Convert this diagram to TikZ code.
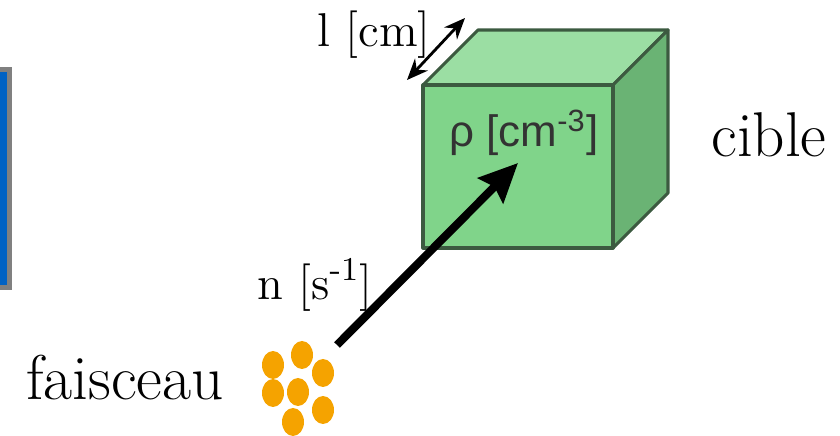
\documentclass[tikz,border=0pt]{standalone}
\usepackage{fontspec}
\newfontfamily\labelsans{Liberation Sans}
\usepackage{tikz}
\usetikzlibrary{arrows.meta,calc,positioning}
\definecolor{cubefront}{HTML}{80D48A}
\definecolor{cubetop}{HTML}{9BDEA3}
\definecolor{cubeside}{HTML}{6AB374}
\definecolor{cubeedge}{HTML}{3C5A40}
\definecolor{beamdot}{HTML}{F5A300}
\definecolor{panelblue}{HTML}{0062C4}

\begin{document}
\begin{tikzpicture}[
    bigtext/.style={font=\fontsize{18}{20}\selectfont},
    smalltext/.style={font=\fontsize{13.5}{15}\selectfont},
    face/.style={draw=cubeedge,line width=0.9pt,line join=round}]
  \useasboundingbox (0,0) rectangle (8.4,4.36);
  % panel cut by the left edge
  \fill[panelblue,draw=gray,line width=0.05cm] (-0.2,3.665) rectangle (0.095,1.485);
  % target cube
  \begin{scope}
    \coordinate (F0) at (4.23,1.88);
    \coordinate (F1) at (6.13,1.88);
    \coordinate (F2) at (6.13,3.51);
    \coordinate (F3) at (4.23,3.51);
    \foreach \k in {0,...,3} \coordinate (B\k) at ($(F\k)+(0.55,0.55)$);
    \draw[face,fill=cubetop] (F3)--(F2)--(B2)--(B3)--cycle;
    \draw[face,fill=cubeside] (F1)--(B1)--(B2)--(F2)--cycle;
    \draw[face,fill=cubefront] (F0)--(F1)--(F2)--(F3)--cycle;
    \node[font=\labelsans\fontsize{12.5}{14}\selectfont,text=black!80] (rho) at (5.24,3.03) {ρ [cm\textsuperscript{-3}]};
    \coordinate (hit) at (5.18,2.73);
  \end{scope}
  \node[bigtext] (cible) at (7.69,3.01) {cible};
  % thickness
  \coordinate (L0) at (4.07,3.56);
  \coordinate (L1) at (4.65,4.18);
  \draw[{Stealth[length=6pt,width=5pt]}-{Stealth[length=6pt,width=5pt]},line width=0.8pt] (L0)--(L1);
  \node[smalltext] (lcm) at (3.74,4.01) {l [cm]};
  % beam
  \foreach \x/\y [count=\i] in {2.73/0.71,3.02/0.81,3.23/0.63,2.73/0.43,2.98/0.44,3.23/0.26,2.93/0.14}
    \fill[beamdot] (\x,\y) ellipse [x radius=0.11,y radius=0.14];
  \coordinate (beam) at (3.37,0.91);
  \node[bigtext] (faisceau) at (1.25,0.58) {faisceau};
  \draw[-{Stealth[length=11pt,width=10pt,inset=1.5pt]},line width=2.3pt] (beam)--(hit);
  \node[smalltext] (flux) at (3.15,1.51) {n [s\textsuperscript{-1}]};
\end{tikzpicture}
\end{document}
